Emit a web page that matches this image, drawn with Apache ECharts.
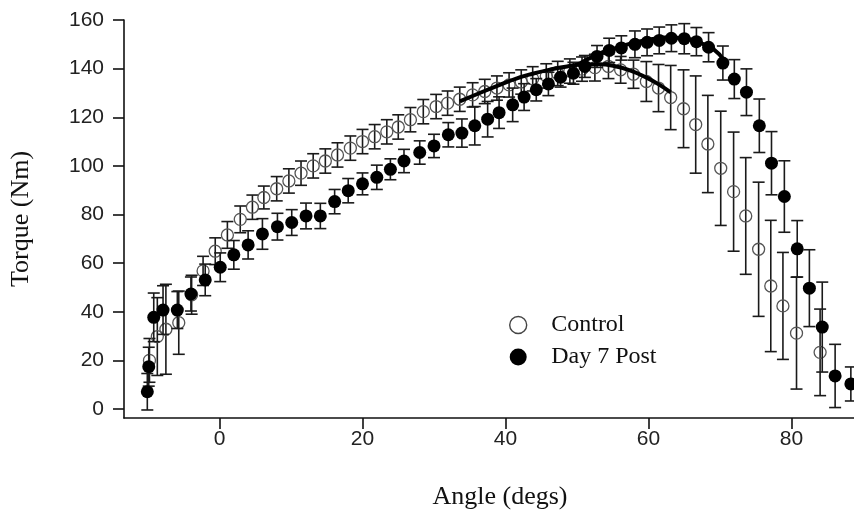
<!DOCTYPE html>
<html>
<head>
<meta charset="utf-8">
<script src="https://cdn.jsdelivr.net/npm/echarts@6/dist/echarts.min.js"></script>
<style>
html,body{margin:0;padding:0;background:#fff;}
#c{width:854px;height:520px;}
</style>
</head>
<body>
<div id="c"></div>
<script>
// ---- data ----
var xTicks = [0, 20, 40, 60, 80];
var yTicks = [0, 20, 40, 60, 80, 100, 120, 140, 160];

var ctrlAngle = [-9.8, -8.7, -7.5, -5.7, -3.9, -2.3, -0.6, 1.1, 2.9, 4.6, 6.2, 8.0, 9.7, 11.4, 13.1, 14.8, 16.5, 18.3, 20.0, 21.7, 23.4, 25.0, 26.7, 28.5, 30.3, 31.9, 33.6, 35.4, 37.1, 38.8, 40.5, 42.2, 43.8, 45.7, 47.3, 49.0, 50.7, 52.5, 54.4, 56.1, 57.9, 59.7, 61.4, 63.1, 64.9, 66.6, 68.3, 70.1, 71.9, 73.6, 75.4, 77.1, 78.8, 80.7, 84.0];
var ctrlTorque = [20, 29.8, 32.8, 35.5, 47, 56.8, 64.9, 71.6, 78, 83, 87, 90.6, 93.8, 97, 100, 102, 104.5, 107.3, 110, 112, 114, 116, 119, 122.3, 124.4, 125.8, 127.4, 129.2, 130.6, 132, 133.3, 134.5, 135.8, 137, 138, 139, 139.8, 140.4, 140.9, 139.5, 137.7, 134.7, 132, 128.1, 123.5, 117, 109, 99, 89.4, 79.4, 65.7, 50.6, 42.4, 31.2, 23.3];
var ctrlErr = [9, 16, 18.5, 13, 8, 6, 5.5, 5.5, 5.5, 5, 4.7, 5, 5, 5, 5, 5, 5, 5, 5, 5, 5, 5, 5, 5, 5, 5, 5, 5, 5, 5, 5, 5, 5, 5, 5, 5, 5, 5.5, 5, 5.5, 5.8, 8.2, 9.7, 13.2, 16, 20, 20, 23.5, 24.5, 24, 27.6, 27, 22, 23, 17.8];

var postAngle = [-10.1, -9.9, -9.2, -7.9, -5.9, -4.0, -2.0, 0.1, 2.0, 4.0, 6.0, 8.1, 10.1, 12.1, 14.1, 16.1, 18.0, 20.0, 22.0, 23.9, 25.8, 28.0, 30.0, 32.0, 33.9, 35.7, 37.5, 39.1, 41.0, 42.6, 44.3, 46.0, 47.7, 49.5, 51.1, 52.8, 54.5, 56.2, 58.1, 59.8, 61.5, 63.2, 65.0, 66.7, 68.4, 70.4, 72.0, 73.7, 75.5, 77.2, 79.0, 80.8, 82.5, 84.3, 86.1, 88.3];
var postTorque = [7.1, 17.4, 37.7, 40.7, 40.7, 47.3, 53.1, 58.3, 63.4, 67.5, 72, 75, 76.7, 79.4, 79.4, 85.3, 89.8, 92.6, 95.3, 98.6, 102, 105.5, 108.2, 112.8, 113.5, 116.5, 119.2, 121.9, 125.1, 128.3, 131.3, 133.7, 136.5, 138.1, 140.9, 145, 147.5, 148.5, 150, 150.8, 151.6, 152.5, 152.3, 151.1, 148.8, 142.3, 135.7, 130.3, 116.5, 101.1, 87.4, 65.9, 49.7, 33.7, 13.6, 10.3];
var postErr = [7.5, 8, 10, 10, 7.6, 7, 6.5, 5.9, 5.9, 5.8, 6.3, 5.5, 5.3, 5.3, 5.2, 5, 5, 4.5, 5, 4.3, 4.8, 4.8, 4.8, 5, 5.8, 7.9, 7.3, 6.5, 6.9, 5.5, 4.6, 4.8, 4.1, 4.5, 4.5, 4.5, 5, 5, 5.5, 5.5, 5.5, 5.5, 6.2, 5.8, 6, 7, 8, 9.6, 11, 13, 14.7, 11.6, 15.8, 18.5, 13, 7];

var ctrlFitAngle = [33.6, 36.9, 39.2, 41.5, 43.8, 46.2, 48.6, 50.9, 53.1, 55.2, 57.4, 59.6, 61.6, 63.1];
var ctrlFitTorque = [126.5, 130.6, 133.3, 135.9, 137.9, 139.6, 140.9, 141.7, 141.8, 141.1, 139.3, 136.5, 133.2, 130.2];

var postFitAngle = [50.0, 53.2, 55.4, 57.7, 60.0, 62.5, 64.9, 67.3, 69.2, 70.5];
var postFitTorque = [141.5, 146.3, 148.4, 150.5, 151.9, 152.8, 152.5, 150.5, 147.7, 143.6];

var legendNames = ['Control', 'Day 7 Post'];

// ---- build ----
function zip3(a, b, c) { return a.map(function (v, i) { return [v, b[i], c[i]]; }); }
function zip2(a, b) { return a.map(function (v, i) { return [v, b[i]]; }); }

function errBar(params, api) {
  var x = api.value(0), y = api.value(1), e = api.value(2);
  var t = api.coord([x, y + e]), b = api.coord([x, y - e]);
  var hw = 6;
  var st = { stroke: '#1a1a1a', lineWidth: 1.6 };
  return {
    type: 'group',
    children: [
      { type: 'line', shape: { x1: t[0], y1: t[1], x2: b[0], y2: b[1] }, style: st },
      { type: 'line', shape: { x1: t[0] - hw, y1: t[1], x2: t[0] + hw, y2: t[1] }, style: st },
      { type: 'line', shape: { x1: b[0] - hw, y1: b[1], x2: b[0] + hw, y2: b[1] }, style: st }
    ]
  };
}

var chart = echarts.init(document.getElementById('c'), null, { renderer: 'canvas' });
var sans = 'Liberation Sans, Arial, sans-serif';
var serif = 'Liberation Serif, Times New Roman, serif';

chart.setOption({
  animation: false,
  backgroundColor: '#fff',
  grid: { left: 124, right: 0, top: 20, bottom: 102, containLabel: false },
  legend: {
    orient: 'vertical',
    left: 504,
    top: 308,
    itemWidth: 56,
    itemHeight: 17,
    itemGap: 8,
    data: [
      { name: legendNames[0], icon: 'circle', itemStyle: { color: 'rgba(0,0,0,0)', borderColor: '#444', borderWidth: 1.4, opacity: 1 } },
      { name: legendNames[1], icon: 'circle', itemStyle: { color: '#000', opacity: 1 } }
    ],
    textStyle: { fontFamily: serif, fontSize: 24, color: '#111' }
  },
  xAxis: {
    type: 'value',
    min: -13.36,
    max: 88.74,
    name: 'Angle (degs)',
    nameLocation: 'middle',
    nameGap: 66,
    nameTextStyle: { fontFamily: serif, fontSize: 26, color: '#111', padding: [0, 0, 0, 22] },
    axisLine: { show: true, onZero: false, lineStyle: { color: '#111', width: 1.6 } },
    axisTick: { show: true, inside: false, length: 11, customValues: xTicks, lineStyle: { color: '#111', width: 1.6 } },
    axisLabel: { customValues: xTicks, margin: 11, fontFamily: sans, fontSize: 21, color: '#222' },
    splitLine: { show: false }
  },
  yAxis: {
    type: 'value',
    min: -3.7,
    max: 160,
    name: 'Torque (Nm)',
    nameLocation: 'middle',
    nameGap: 90,
    nameRotate: 90,
    nameTextStyle: { fontFamily: serif, fontSize: 26, color: '#111' },
    axisLine: { show: true, onZero: false, lineStyle: { color: '#111', width: 1.6 } },
    axisTick: { show: true, inside: false, length: 11, customValues: yTicks, lineStyle: { color: '#111', width: 1.6 } },
    axisLabel: { customValues: yTicks, margin: 20, fontFamily: sans, fontSize: 21, color: '#222' },
    splitLine: { show: false }
  },
  series: [
    { type: 'custom', name: 'ctrlErr', renderItem: errBar, data: zip3(ctrlAngle, ctrlTorque, ctrlErr), z: 2, clip: false, silent: true },
    {
      type: 'scatter', name: legendNames[0], data: zip2(ctrlAngle, ctrlTorque), symbol: 'circle', symbolSize: 12,
      itemStyle: { color: 'rgba(0,0,0,0)', borderColor: '#555', borderWidth: 1.3, opacity: 1 }, z: 3
    },
    { type: 'custom', name: 'postErr', renderItem: errBar, data: zip3(postAngle, postTorque, postErr), z: 4, clip: false, silent: true },
    {
      type: 'scatter', name: legendNames[1], data: zip2(postAngle, postTorque), symbol: 'circle', symbolSize: 13,
      itemStyle: { color: '#000', opacity: 1 }, z: 5
    },
    {
      type: 'line', name: 'ctrlFit', data: zip2(ctrlFitAngle, ctrlFitTorque), smooth: true, showSymbol: false,
      lineStyle: { color: '#000', width: 4 }, z: 6
    },
    {
      type: 'line', name: 'postFit', data: zip2(postFitAngle, postFitTorque), smooth: true, showSymbol: false,
      lineStyle: { color: '#000', width: 4 }, z: 6
    }
  ]
});
</script>
</body>
</html>
